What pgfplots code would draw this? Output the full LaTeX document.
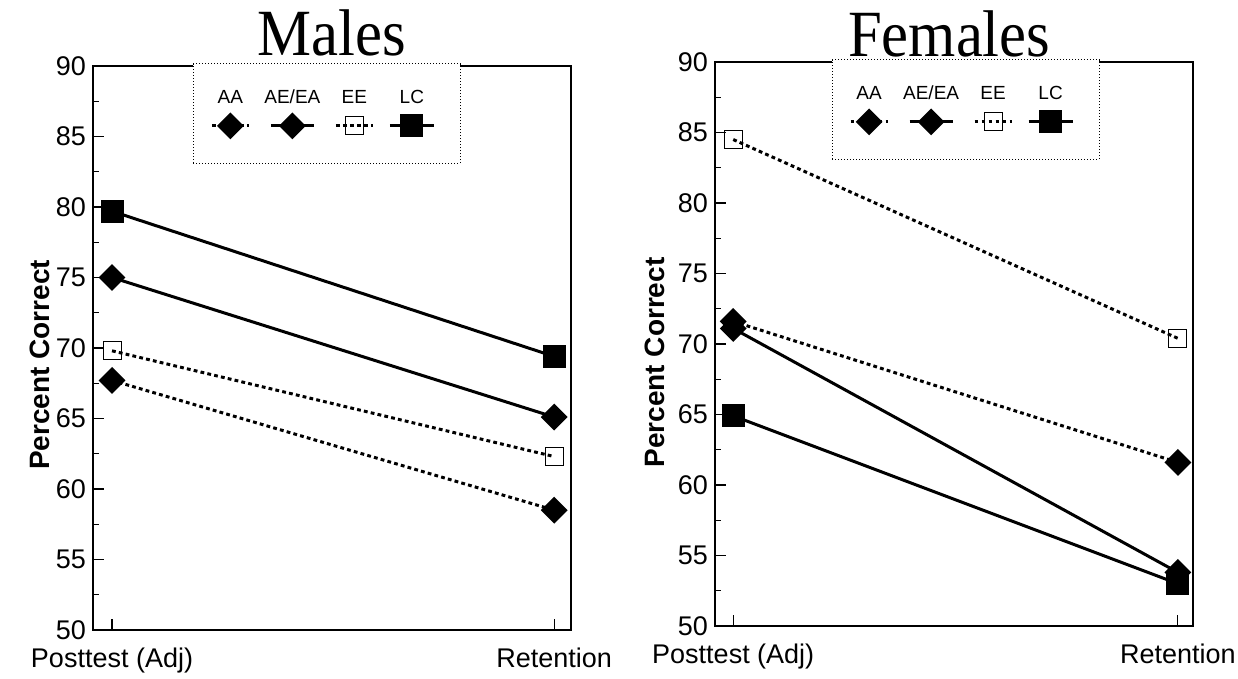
\documentclass[border=0pt]{standalone}
\usepackage{pgfplots}
\usepackage{pgfplotstable}
\pgfplotsset{compat=1.18}
\usepackage{fontspec}
\setmainfont{Liberation Sans}
\newfontfamily\titlefont{Liberation Serif}

\pgfplotstableread{
x AA AEEA EE LC
0 67.7 75.0 69.8 79.7
1 58.5 65.1 62.3 69.4
}\males
\pgfplotstableread{
x AA AEEA EE LC
0 71.6 71.1 84.5 64.9
1 61.6 53.8 70.4 53.0
}\females

\newcommand{\legfont}{\fontsize{9.5}{9.5}\selectfont}
\tikzset{
 dotline/.style={line width=1.5pt, dash pattern=on 1.9pt off 1.6pt},
 solidline/.style={solid, line width=1.5pt},
}
\pgfplotsset{
 legimg/.style 2 args={legend image code/.code={%
   \draw[mark repeat=2,mark phase=2,##1] plot coordinates {(0pt,0pt) (#1/2,0pt) (#1,0pt)};
   \node[font=\legfont, inner sep=0pt, anchor=base, solid] at (#1/2,11.2pt) {#2};}},
 panel/.style={
  scale only axis, width=239pt, height=282pt,
  ymin=50, ymax=90, ytick={50,55,...,90}, minor y tick num=1,
  xtick={0,1}, xticklabels={Posttest (Adj), Retention},
  tick align=inside, xtick pos=bottom, ytick pos=left,
  major tick length=5.5pt, minor tick length=2.8pt,
  axis line style={line width=0.9pt},
  every tick/.style={line width=0.6pt, black},
  ticklabel style={font=\fontsize{13.5}{14}\selectfont},
  /pgf/number format/assume math mode=true,
  xticklabel style={yshift=-5.5pt},
  ylabel={Percent Correct},
  every axis y label/.style={at={(axis description cs:-0.111,0.47)}, rotate=90, anchor=center, font=\fontsize{14}{14}\selectfont\bfseries},
  every axis title/.style={at={(0.5,1)}, anchor=base, yshift=5pt, font=\titlefont\fontsize{33}{33}\selectfont, xscale=0.92},
  legend columns=4,
  legend style={draw=black, densely dotted, line width=0.5pt, fill=white,
     inner xsep=8.5pt, inner ysep=13pt,
     /tikz/every odd column/.style={column sep=3pt},
     /tikz/every even column/.style={column sep=3pt},
     nodes={inner sep=0pt}},
  legend cell align=center,
 },
 pAA/.style={black, dotline, mark=square*, mark options={solid, rotate=45, mark size=4pt}, legimg={18.5pt}{AA}},
 pAE/.style={black, solidline, mark=square*, mark options={solid, rotate=45, mark size=4pt}, legimg={21.5pt}{AE/EA}},
 pEE/.style={black, dotline, mark=square, mark options={solid, line width=0.5pt, mark size=4.5pt}, legimg={18.5pt}{EE}},
 pLC/.style={black, solidline, mark=square*, mark options={solid, mark size=5pt}, legimg={22pt}{LC}},
}

\begin{document}
\begin{tikzpicture}
\useasboundingbox (0,0) rectangle (619pt,339.5pt);
\begin{axis}[panel, at={(46.5pt,24.5pt)}, anchor=south west,
  xmin=-0.043, xmax=1.038, title={Males},
  legend style={at={(axis description cs:0.209,1.005)}, anchor=north west}]
\addplot[pAA] table[x=x, y=AA] {\males}; \addlegendentry{\mbox{}}
\addplot[pAE] table[x=x, y=AEEA] {\males}; \addlegendentry{\mbox{}}
\addplot[pEE] table[x=x, y=EE] {\males}; \addlegendentry{\mbox{}}
\addplot[pLC] table[x=x, y=LC] {\males}; \addlegendentry{\mbox{}}
\end{axis}
\begin{axis}[panel, at={(357.5pt,26.5pt)}, anchor=south west,
  xmin=-0.041, xmax=1.034, title={Females},
  every axis y label/.append style={at={(axis description cs:-0.126,0.467)}},
  every axis title/.append style={at={(0.49,1)}, yshift=-2.5pt},
  legend style={at={(axis description cs:0.244,1.005)}, anchor=north west}]
\addplot[pAA] table[x=x, y=AA] {\females}; \addlegendentry{\mbox{}}
\addplot[pAE] table[x=x, y=AEEA] {\females}; \addlegendentry{\mbox{}}
\addplot[pEE] table[x=x, y=EE] {\females}; \addlegendentry{\mbox{}}
\addplot[pLC] table[x=x, y=LC] {\females}; \addlegendentry{\mbox{}}
\end{axis}
\end{tikzpicture}
\end{document}
